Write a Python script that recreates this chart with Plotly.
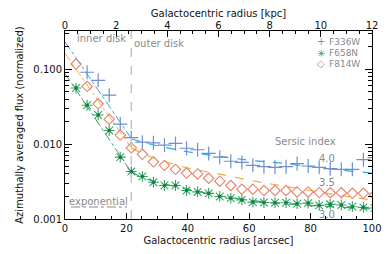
import plotly.graph_objects as go

# ---------------- data ----------------
radius_arcsec = [3.6, 7.2, 10.8, 14.4, 18.0, 21.6, 25.2, 28.8, 32.4, 36.0,
                 39.6, 43.2, 46.8, 50.4, 54.0, 57.6, 61.2, 64.8, 68.4, 72.0,
                 75.6, 79.2, 82.8, 86.4, 90.0, 93.6, 97.2, 100.8]

flux_F336W = [None, 0.091, 0.071, 0.045, 0.0185, 0.0122, 0.0106, 0.0104, 0.0097, 0.0102,
              0.0088, 0.0084, 0.0075, 0.0067, 0.0059, 0.0057, 0.0052, 0.0050, 0.0049, 0.0050,
              0.0055, 0.0051, 0.0049, 0.0047, 0.0046, 0.0046, 0.0062, 0.0066]

flux_F658N = [0.056, 0.033, 0.0245, 0.0152, 0.0067, 0.0043, 0.0037, 0.0031, 0.0028, 0.0028,
              0.0024, 0.0023, 0.0022, 0.0020, 0.0019, 0.0018, 0.00168, 0.00166, 0.00165, 0.00165,
              0.0016, 0.00163, 0.00152, 0.00157, 0.00154, 0.00146, 0.00143, 0.0014]

flux_F814W = [0.117, 0.059, 0.0345, 0.0215, 0.0132, 0.0089, 0.0073, 0.0058, 0.0052, 0.0046,
              0.0041, 0.0040, 0.0035, 0.0032, 0.0028, 0.0025, 0.0025, 0.0024, 0.0024, 0.0024,
              0.0023, 0.0023, 0.00225, 0.00224, 0.00224, 0.0022, 0.0022, 0.0021]

# exponential fits (inner disk) : end points
exp_r = [0.0, 21.6]
exp_F336W = [0.231, 0.0119]
exp_F814W = [0.162, 0.0089]
exp_F658N = [0.0877, 0.0042]

# Sersic fits (outer disk) : points
ser_r = [21.6, 25, 30, 40, 50, 60, 70, 80, 90, 100]
ser_F336W = [0.0118, 0.0107, 0.0095, 0.0079, 0.0069, 0.0061, 0.0056, 0.0050, 0.0045, 0.0041]
ser_F814W = [0.0089, 0.0076, 0.0063, 0.0048, 0.0040, 0.0033, 0.0028, 0.0024, 0.00205, 0.0018]
ser_F658N = [0.0043, 0.0036, 0.0031, 0.0025, 0.00205, 0.00178, 0.00162, 0.00151, 0.00143, 0.00136]

sersic_labels = ["4.0", "3.5", "3.0"]
disk_break_arcsec = 21.6
kpc_per_arcsec = 0.12

x_ticks = [0, 20, 40, 60, 80, 100]
kpc_ticks = [0, 2, 4, 6, 8, 10, 12]
y_ticks = [0.001, 0.01, 0.1]
y_ticklabels = ["0.001", "0.010", "0.100"]

# ---------------- style ----------------
C_BLUE_M = "#6f8fcf"
C_BLUE_L = "#2aa8e2"
C_GREEN = "#34a464"
C_GREEN_D = "#1c7a44"
C_RED_M = "#e3826a"
C_ORANGE_L = "#f6aa3c"
C_GRAY = "#8a8a8a"
FONT = "DejaVu Sans"

fig = go.Figure()

# fit lines
for xs, ys, col in [(exp_r, exp_F336W, C_BLUE_L), (exp_r, exp_F814W, C_ORANGE_L), (exp_r, exp_F658N, C_GREEN)]:
    fig.add_trace(go.Scatter(x=xs, y=ys, mode="lines", line=dict(color=col, width=1, dash="dashdot"),
                             showlegend=False, hoverinfo="skip"))
for xs, ys, col in [(ser_r, ser_F336W, C_BLUE_L), (ser_r, ser_F814W, C_ORANGE_L), (ser_r, ser_F658N, C_GREEN)]:
    fig.add_trace(go.Scatter(x=xs, y=ys, mode="lines", line=dict(color=col, width=1.2, dash="dash", shape="spline"),
                             showlegend=False, hoverinfo="skip"))

# data markers
fig.add_trace(go.Scatter(x=radius_arcsec, y=flux_F336W, mode="markers", name="F336W",
                         marker=dict(symbol="cross-thin-open", size=10, color=C_BLUE_M,
                                     line=dict(color=C_BLUE_M, width=1.2)),
                         showlegend=False))
fig.add_trace(go.Scatter(x=radius_arcsec, y=flux_F658N, mode="markers", name="F658N",
                         marker=dict(symbol="asterisk-open", size=9, color=C_GREEN,
                                     line=dict(color=C_GREEN, width=1.1)),
                         showlegend=False))
fig.add_trace(go.Scatter(x=radius_arcsec, y=flux_F658N, mode="markers", name="F658N core",
                         marker=dict(symbol="circle", size=3.5, color=C_GREEN_D),
                         showlegend=False, hoverinfo="skip"))
fig.add_trace(go.Scatter(x=radius_arcsec, y=flux_F814W, mode="markers", name="F814W",
                         marker=dict(symbol="diamond-open", size=8, color=C_RED_M,
                                     line=dict(color=C_RED_M, width=1.1)),
                         showlegend=False))

# invisible trace to carry the top (kpc) axis
fig.add_trace(go.Scatter(x=[r * kpc_per_arcsec for r in radius_arcsec], y=flux_F814W, xaxis="x2",
                         mode="markers", marker=dict(opacity=0), showlegend=False, hoverinfo="skip"))

# inner/outer disk boundary
fig.add_vline(x=disk_break_arcsec, line=dict(color="#c4c4c4", width=1.5, dash="dash"))

axis_common = dict(showline=True, linecolor="black", linewidth=1, showgrid=False, zeroline=False,
                   automargin=False,
                   ticks="inside", tickcolor="black", tickfont=dict(family=FONT, size=10, color="#111"))

# the page body adds an 8px offset, so the figure is 8px smaller than the window
fig.update_layout(
    width=382, height=246,
    margin=dict(l=57, r=18, t=23, b=35),
    paper_bgcolor="white", plot_bgcolor="white",
    showlegend=False,
    font=dict(family=FONT, size=10, color="#111"),
    xaxis=dict(range=[0, 100], tickvals=x_ticks, ticklen=6,
               minor=dict(ticks="inside", dtick=5, ticklen=3, tickcolor="black"),
               title=dict(text="Galactocentric radius [arcsec]", font=dict(family=FONT, size=10), standoff=3),
               **axis_common),
    xaxis2=dict(range=[0, 12], overlaying="x", side="top", tickvals=kpc_ticks, ticklen=6,
                ticklabelstandoff=-3,
                minor=dict(ticks="inside", dtick=0.5, ticklen=3, tickcolor="black"),
                title=dict(text="Galactocentric radius [kpc]", font=dict(family=FONT, size=10), standoff=1),
                **axis_common),
    yaxis=dict(type="log", range=[-3, -0.49], tickvals=y_ticks, ticktext=y_ticklabels, ticklen=7,
               mirror="ticks",
               minor=dict(ticks="inside", ticklen=4, tickcolor="black", dtick="D1"),
               title=dict(text="Azimuthally averaged flux (normalized)", font=dict(family=FONT, size=10), standoff=7),
               **axis_common),
)


def px_to_paper(px, py):
    return (px - 65) / 307.0, (219 - py) / 188.0


def note(text, px, py, color=C_GRAY, size=10, xanchor="center"):
    x, y = px_to_paper(px, py)
    fig.add_annotation(text=text, x=x, y=y, xref="paper", yref="paper", showarrow=False,
                       xanchor=xanchor, yanchor="middle", font=dict(family=FONT, size=size, color=color))


note("inner disk", 101, 39)
note("outer disk", 159, 43)
note("Sersic index", 305, 141)
note(sersic_labels[0], 327, 158)
note(sersic_labels[1], 327, 182)
note(sersic_labels[2], 327, 214)
note("exponential", 98, 201)

x0, y0 = px_to_paper(71, 207)
x1, _ = px_to_paper(127, 207)
fig.add_shape(type="line", xref="paper", yref="paper", x0=x0, x1=x1, y0=y0, y1=y0,
              line=dict(color=C_GRAY, width=1, dash="dashdot"))

# legend (symbol + text)
for (sym, col, lab), py in zip([("+", C_BLUE_M, "F336W"), ("✳", C_GREEN, "F658N"), ("◇", C_RED_M, "F814W")],
                               [42, 53, 64]):
    note(sym, 321, py, color=col, size=10)
    note(lab, 327, py, color=C_GRAY, size=9, xanchor="left")

fig.write_html("out.html")
